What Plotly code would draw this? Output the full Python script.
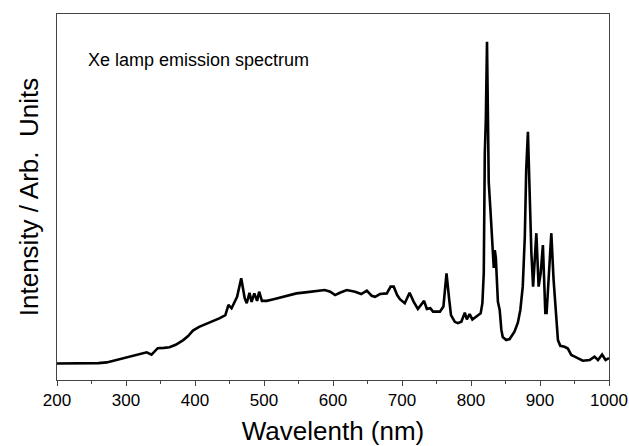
import plotly.graph_objects as go

# Wavelength (nm) and normalized intensity (arb. units)
wavelength = [200, 230, 250, 260, 272, 282, 296, 308, 319, 330, 337, 346, 355, 363, 372,
              383, 390, 397, 406, 416, 427, 436, 444,
              448.5, 453, 461, 467, 472, 475, 479, 482, 486, 490, 493, 497, 504, 514, 523,
              535, 547, 560, 571, 588, 596, 603, 610, 620, 632, 641, 649, 656, 661, 668, 678,
              683.5, 688, 693, 697, 704, 711, 717, 723, 732, 736, 741, 745, 755, 760,
              764.5, 768, 771, 776.5, 781, 786, 791, 794, 798, 802, 808, 814, 816.5,
              818.5, 820, 821.5, 823.2, 824.7, 825.7, 828.6, 831.5, 833, 834.5, 836,
              839, 841.6, 844, 846, 851, 856, 863, 868, 871.5, 875, 878, 880, 882.5, 884,
              885, 887.5, 890, 894.7, 898, 901, 904.2, 907.7, 909.6, 913, 916.4, 919.7,
              923.6, 926, 929.4, 935.6, 940.4, 945.3, 952.5, 962, 972, 979, 984, 990,
              995, 1000]
intensity = [0.049, 0.049, 0.050, 0.050, 0.052, 0.057, 0.064, 0.070, 0.077, 0.082, 0.075,
             0.094, 0.095, 0.097, 0.104, 0.118, 0.130, 0.146, 0.157, 0.165, 0.175, 0.183,
             0.192, 0.222, 0.212, 0.246, 0.301, 0.242, 0.227, 0.258,
             0.231, 0.256, 0.234, 0.261, 0.234, 0.234, 0.239, 0.244, 0.250, 0.256, 0.259,
             0.261, 0.266, 0.261,
             0.251, 0.258, 0.266, 0.261, 0.254, 0.264, 0.249, 0.246, 0.254, 0.256, 0.276,
             0.276, 0.251, 0.239, 0.227, 0.258, 0.231, 0.210, 0.234, 0.210, 0.212, 0.202,
             0.202, 0.217, 0.315, 0.246, 0.192, 0.172, 0.168, 0.172, 0.199, 0.179, 0.195,
             0.179, 0.189, 0.197, 0.227, 0.316, 0.671, 0.769, 1.000, 0.798, 0.585, 0.488,
             0.399, 0.331, 0.384, 0.361, 0.231, 0.207, 0.148, 0.127, 0.118, 0.121, 0.143,
             0.170, 0.207, 0.276, 0.424, 0.621, 0.734, 0.612, 0.532, 0.375, 0.276, 0.434, 0.276,
             0.316, 0.399, 0.198, 0.198, 0.316, 0.434, 0.296, 0.177, 0.118, 0.101, 0.098,
             0.093, 0.074, 0.067, 0.057, 0.059, 0.069, 0.059, 0.075, 0.059, 0.065]

x_ticks = [200, 300, 400, 500, 600, 700, 800, 900, 1000]

FONT = "Liberation Sans, Arial, sans-serif"
AXIS_COLOR = "#444444"

fig = go.Figure()
fig.add_trace(go.Scatter(
    x=wavelength, y=intensity, mode="lines",
    line=dict(color="black", width=2.6),
    showlegend=False,
))

fig.update_layout(
    width=629, height=446,
    margin=dict(l=57, r=20, t=14, b=66, autoexpand=False),
    paper_bgcolor="white", plot_bgcolor="white",
    font=dict(family=FONT, color="black"),
    annotations=[dict(
        text="Xe lamp emission spectrum", xref="paper", yref="paper",
        x=0.053, y=0.874, xanchor="left", yanchor="middle",
        showarrow=False, font=dict(size=18, family=FONT, color="black"),
    )],
)

fig.update_xaxes(
    range=[200, 1000], tickvals=x_ticks, ticktext=[str(v) for v in x_ticks],
    automargin=False,
    showgrid=False, zeroline=False,
    showline=True, linecolor=AXIS_COLOR, linewidth=1, mirror=True,
    ticks="outside", ticklen=5, tickcolor=AXIS_COLOR, tickwidth=1,
    minor=dict(ticks="outside", dtick=50, tick0=0, ticklen=3, tickcolor=AXIS_COLOR, showgrid=False),
    tickfont=dict(size=17, family=FONT, color="black"),
    title=dict(text="Wavelenth (nm)", font=dict(size=26, family=FONT, color="black"), standoff=21),
)
fig.update_yaxes(
    range=[0, 1.082], showticklabels=False, ticks="",
    automargin=False,
    showgrid=False, zeroline=False,
    showline=True, linecolor=AXIS_COLOR, linewidth=1, mirror=True,
    title=dict(text="Intensity / Arb.\u00a0 Units", font=dict(size=26, family=FONT, color="black"), standoff=9),
)

fig.write_html("out.html")
